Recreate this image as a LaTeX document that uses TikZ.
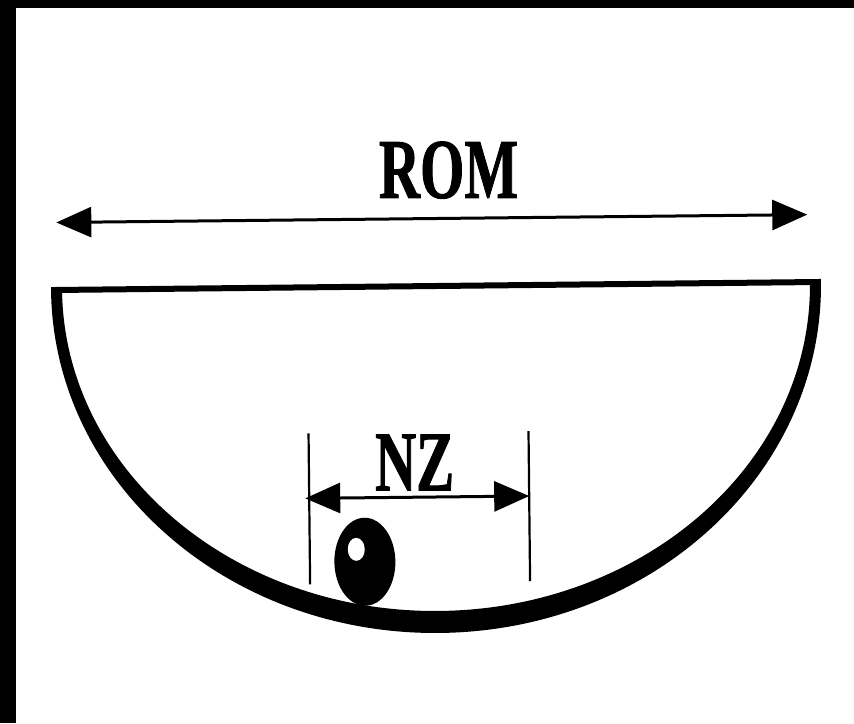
\documentclass[tikz,border=0pt]{standalone}
\usepackage{fontspec}
\setmainfont{Liberation Serif}[BoldFont={Liberation Serif Bold}]
\newfontfamily\lblfont{Liberation Serif Bold}[FakeBold=1.3]
\usetikzlibrary{arrows.meta}
\tikzset{
  dimline/.style={line width=3pt, {Triangle[length=35pt,width=30pt]}-{Triangle[length=35pt,width=30pt]}},
  extline/.style={line width=2.2pt},
  lbl/.style={inner sep=0pt, anchor=base, font=\lblfont\fontsize{85}{90}\selectfont},
  ink/.style={fill=black}
}
\begin{document}
\begin{tikzpicture}[x=1pt,y=1pt]
\useasboundingbox (0,0) rectangle (854,723);
\fill[white] (0,0) rectangle (854,723);
% scan border bands
\fill[ink] (0,0) rectangle (16,723);
\fill[ink] (0,715) rectangle (854,723);
\begin{scope}[rotate around={0.6:(436,437)}]
  % ROM dimension
  \coordinate (romL) at (57,504.5);
  \coordinate (romR) at (808,504.5);
  \draw[dimline] (romL) -- (romR);
  \node[lbl] (rom) at (449.5,525) {\scalebox{0.67}[1]{ROM}};
  % bowl
  \fill[ink] (51,437) arc[start angle=180,end angle=360,x radius=385,y radius=347]
     -- (810,437) arc[start angle=0,end angle=-180,x radius=374,y radius=325] -- cycle;
  \coordinate (topL) at (51,437);
  \coordinate (topR) at (821,437);
  \draw[line width=6pt] (topL) -- (topR);
  % NZ dimension
  \coordinate (nzLt) at (307,291);
  \coordinate (nzLb) at (307,140);
  \coordinate (nzRt) at (527,291);
  \coordinate (nzRb) at (527,141);
  \draw[extline] (nzLt) -- (nzLb);
  \draw[extline] (nzRt) -- (nzRb);
  \coordinate (nzA) at (303,226);
  \coordinate (nzB) at (527,226);
  \draw[dimline] (nzA) -- (nzB);
  \node[lbl] (nz) at (412.5,233) {\scalebox{0.67}[1]{NZ}};
  % ball
  \fill[ink] (362,162) ellipse[x radius=30.5,y radius=44];
  \fill[white] (353.5,174.5) ellipse[x radius=8.5,y radius=11.5];
\end{scope}
\end{tikzpicture}
\end{document}
